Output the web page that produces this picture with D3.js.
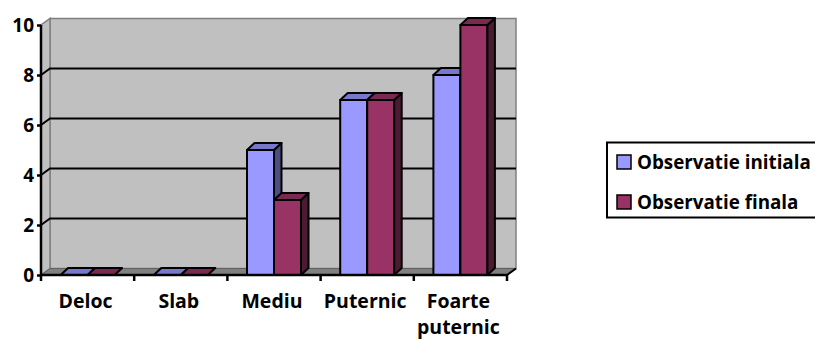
<!DOCTYPE html>
<html>
<head>
<meta charset="utf-8">
<script src="https://cdn.jsdelivr.net/npm/d3@7"></script>
<style>
  html, body { margin: 0; padding: 0; background: #ffffff; }
  svg { display: block; }
  text { font-family: "Open Sans", "Noto Sans", sans-serif; font-weight: bold; fill: #000;
         font-variant-ligatures: none; font-feature-settings: "liga" 0, "clig" 0; }
</style>
</head>
<body>
<svg id="chart" width="815" height="340"></svg>
<script>
// ---- data ----
const categories = ["Deloc", "Slab", "Mediu", "Puternic", "Foarte puternic"];
const seriesNames = ["Observatie initiala", "Observatie finala"];
const initialValues = [0, 0, 5, 7, 8];
const finalValues = [0, 0, 3, 7, 10];
const yTicks = [0, 2, 4, 6, 8, 10];

// ---- style / layout ----
const colors = {
  "Observatie initiala": { front: "#9999FF", top: "#7777CC", side: "#4D4D80" },
  "Observatie finala":   { front: "#993366", top: "#7A2952", side: "#4D1A33" }
};
const plotLeft = 41, plotRight = 507, plotBottom = 275, plotTop = 25;
const wallDx = 9, wallDy = -6.5;
const barDx = 7.5, barDy = -7;
const barWidth = 27;

const svg = d3.select("#chart");

const x = d3.scaleBand().domain(categories).range([plotLeft, plotRight]).padding(0);
const y = d3.scaleLinear().domain([0, 10]).range([plotBottom, plotTop]);

const data = categories.map((c, i) => ({
  category: c,
  values: [
    { series: seriesNames[0], value: initialValues[i] },
    { series: seriesNames[1], value: finalValues[i] }
  ]
}));

const pts = arr => arr.map(p => p.join(",")).join(" ");

// back wall
svg.append("rect")
  .attr("x", plotLeft + wallDx).attr("y", y(10) + wallDy)
  .attr("width", plotRight - plotLeft).attr("height", y(0) - y(10))
  .attr("fill", "#C0C0C0").attr("stroke", "#808080").attr("stroke-width", 1.5);

// left side wall
svg.append("polygon")
  .attr("points", pts([[plotLeft, y(0)], [plotLeft, y(10)], [plotLeft + wallDx, y(10) + wallDy], [plotLeft + wallDx, y(0) + wallDy]]))
  .attr("fill", "#C0C0C0").attr("stroke", "#808080").attr("stroke-width", 1.5);

// floor
svg.append("polygon")
  .attr("points", pts([[plotLeft, y(0)], [plotRight, y(0)], [plotRight + wallDx, y(0) + wallDy], [plotLeft + wallDx, y(0) + wallDy]]))
  .attr("fill", "#808080").attr("stroke", "#606060").attr("stroke-width", 1);

// gridlines (back wall + side wall)
const grid = yTicks.filter(v => v > 0 && v < 10);
svg.append("g").selectAll("polyline").data(grid).join("polyline")
  .attr("points", v => pts([[plotLeft, y(v)], [plotLeft + wallDx, y(v) + wallDy], [plotRight + wallDx, y(v) + wallDy]]))
  .attr("fill", "none").attr("stroke", "#000").attr("stroke-width", 2);

// bars
const inner = d3.scaleBand().domain(seriesNames).range([-barWidth, barWidth]).padding(0);
const cat = svg.append("g").selectAll("g").data(data).join("g");
cat.each(function(d) {
  const g = d3.select(this);
  const cx = x(d.category) + x.bandwidth() / 2;
  d.values.forEach(s => {
    const x0 = cx + inner(s.series), x1 = x0 + inner.bandwidth();
    const yt = y(s.value), yb = y(0);
    const col = colors[s.series];
    const bg = g.append("g").attr("stroke", "#000").attr("stroke-width", 2).attr("stroke-linejoin", "round");
    if (yb - yt > 0) {
      bg.append("rect").attr("x", x0).attr("y", yt).attr("width", x1 - x0).attr("height", yb - yt)
        .attr("fill", col.front);
      bg.append("polygon").attr("points", pts([[x1, yt], [x1 + barDx, yt + barDy], [x1 + barDx, yb + barDy], [x1, yb]]))
        .attr("fill", col.side);
    }
    bg.append("polygon").attr("points", pts([[x0, yt], [x0 + barDx, yt + barDy], [x1 + barDx, yt + barDy], [x1, yt]]))
      .attr("fill", col.top);
  });
});

// axes lines
svg.append("line").attr("x1", plotLeft).attr("x2", plotLeft).attr("y1", y(10)).attr("y2", y(0))
  .attr("stroke", "#000").attr("stroke-width", 2.5);
svg.append("line").attr("x1", plotLeft).attr("x2", plotRight).attr("y1", y(0)).attr("y2", y(0))
  .attr("stroke", "#000").attr("stroke-width", 2.5);
svg.append("line").attr("x1", plotRight).attr("x2", plotRight + wallDx).attr("y1", y(0)).attr("y2", y(0) + wallDy)
  .attr("stroke", "#000").attr("stroke-width", 2);

// y axis ticks + labels
const yAxis = d3.axisLeft(y).tickValues(yTicks).tickSize(4).tickPadding(4).tickFormat(d3.format("d"));
const yg = svg.append("g").attr("transform", `translate(${plotLeft},0)`).call(yAxis);
yg.select(".domain").remove();
yg.selectAll(".tick line").attr("stroke", "#000").attr("stroke-width", 2.5);
yg.selectAll(".tick text").attr("font-size", 19).attr("font-family", "'Open Sans', sans-serif")
  .attr("font-weight", "bold").attr("fill", "#000").attr("dy", "0.36em").attr("x", -7);

// x axis ticks
const edges = categories.map(c => x(c)).concat([plotRight]);
svg.append("g").selectAll("line").data(edges).join("line")
  .attr("x1", d => d).attr("x2", d => d).attr("y1", y(0)).attr("y2", y(0) + 6)
  .attr("stroke", "#000").attr("stroke-width", 2.5);

// x labels (wrapped by words when multi-word)
const xl = svg.append("g").selectAll("text").data(categories).join("text")
  .attr("text-anchor", "middle").attr("font-size", 19.5)
  .attr("x", c => x(c) + x.bandwidth() / 2 - 2).attr("y", 308);
xl.each(function(c) {
  const words = c.split(" ");
  const t = d3.select(this);
  const cxp = +t.attr("x");
  words.forEach((w, i) => {
    t.append("tspan").attr("x", cxp).attr("dy", i === 0 ? 0 : 26).text(w);
  });
});

// legend
const lg = svg.append("g");
lg.append("rect").attr("x", 607).attr("y", 142.5).attr("width", 260).attr("height", 75)
  .attr("fill", "#fff").attr("stroke", "#000").attr("stroke-width", 2);
const li = lg.selectAll("g").data(seriesNames).join("g")
  .attr("transform", (d, i) => `translate(617,${155 + i * 40})`);
li.append("rect").attr("width", 14).attr("height", 14)
  .attr("fill", d => colors[d].front).attr("stroke", "#000").attr("stroke-width", 1.5);
li.append("text").attr("x", 20).attr("y", 13.5).attr("font-size", 18.8).text(d => d);
</script>
</body>
</html>
